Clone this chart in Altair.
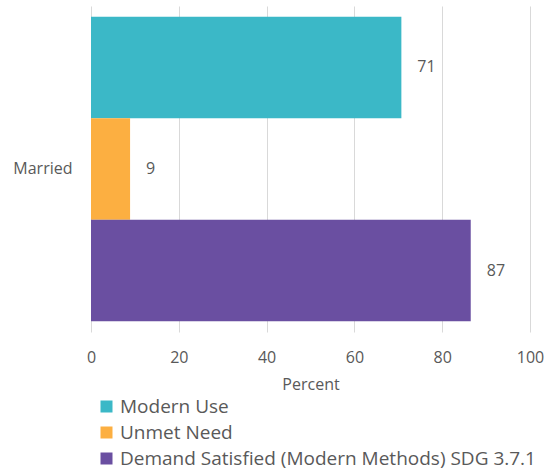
import altair as alt
import pandas as pd

categories = ["Married", "Married", "Married"]
series = ["Modern Use", "Unmet Need", "Demand Satisfied (Modern Methods) SDG 3.7.1"]
values = [70.7, 8.9, 86.5]
labels = ["71", "9", "87"]
colors = ["#3BB8C7", "#FCAF41", "#6A4FA1"]
x_ticks = [0, 20, 40, 60, 80, 100]

df = pd.DataFrame({"cat": categories, "series": series, "value": values, "label": labels})

FONT = "Open Sans"
GRAY = "#595959"

y_enc = alt.Y("cat:N", title=None,
              scale=alt.Scale(paddingOuter=0.035, paddingInner=0),
              axis=alt.Axis(ticks=False, domain=False, labelPadding=19,
                            labelFontSize=16, labelColor=GRAY, labelFont=FONT))
yoff = alt.YOffset("series:N", sort=series, scale=alt.Scale(paddingInner=0, paddingOuter=0))

bars = alt.Chart(df).mark_bar().encode(
    x=alt.X("value:Q", title="Percent",
            scale=alt.Scale(domain=[0, 100], nice=False),
            axis=alt.Axis(values=x_ticks, grid=True, gridColor="#D9D9D9", gridWidth=1,
                          domain=False, ticks=False, labelPadding=17, labelFlush=False,
                          labelFontSize=16, labelColor=GRAY, labelFont=FONT,
                          titleFontSize=16, titleColor=GRAY, titleFont=FONT,
                          titleFontWeight="normal", titlePadding=11)),
    y=y_enc,
    yOffset=yoff,
    color=alt.Color("series:N", sort=series,
                    scale=alt.Scale(domain=series, range=colors),
                    legend=alt.Legend(title=None, orient="none", legendX=6, legendY=391,
                                      symbolType="square", symbolSize=144,
                                      symbolStrokeWidth=0, labelFontSize=19,
                                      labelColor=GRAY, labelFont=FONT, rowPadding=6,
                                      labelOffset=4, labelLimit=500)),
)

text = alt.Chart(df).mark_text(align="left", dx=16, fontSize=16, color=GRAY, font=FONT).encode(
    x="value:Q",
    y=alt.Y("cat:N"),
    yOffset=alt.YOffset("series:N", sort=series),
    text="label:N",
)

chart = alt.layer(bars, text).properties(
    width=439, height=326,
    padding={"left": 91, "top": 6, "right": 15, "bottom": 139},
    autosize=alt.AutoSizeParams(type="none"),
).configure_view(stroke=None)

chart.save("out.html", embed_options={"renderer": "svg", "actions": False})
